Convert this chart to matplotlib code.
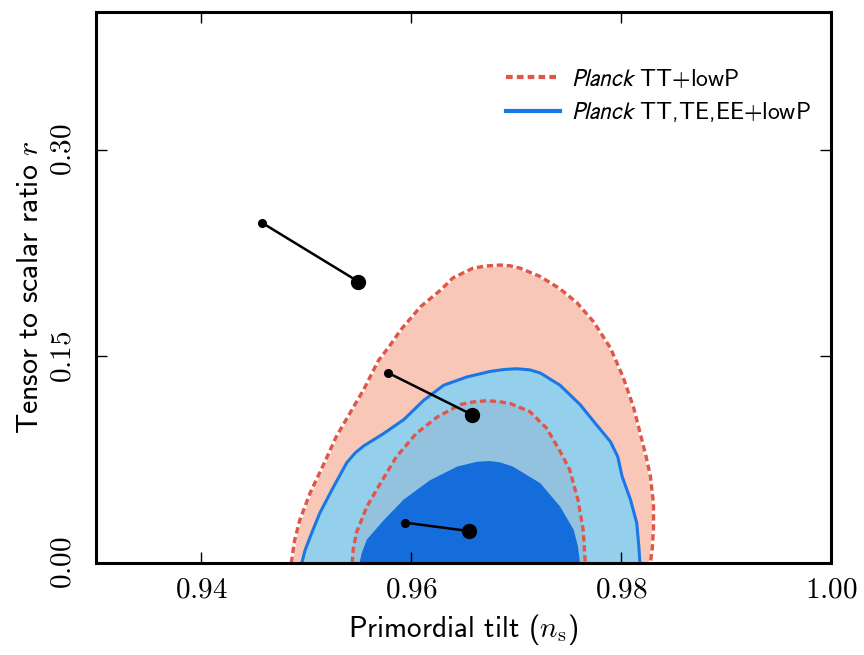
import matplotlib
matplotlib.use('Agg')
import matplotlib.pyplot as plt
from matplotlib.font_manager import FontProperties
from matplotlib.lines import Line2D

plt.rcParams['mathtext.fontset'] = 'cm'

# Planck TT+lowP contours (95% outer, 68% inner)
ns_tt95 = [0.9486, 0.9489, 0.9494, 0.9504, 0.9517, 0.9529, 0.9542, 0.9555, 0.9569,
           0.9580, 0.9590, 0.9609, 0.9628, 0.9640, 0.9659, 0.9671, 0.9685, 0.9694,
           0.9704, 0.9723, 0.9742, 0.9758, 0.9774, 0.9790, 0.9802, 0.9812, 0.9819,
           0.9824, 0.9828, 0.9831, 0.9831, 0.9830, 0.9828]
r_tt95 = [0.000, 0.016, 0.031, 0.051, 0.072, 0.092, 0.109, 0.126, 0.147,
          0.158, 0.169, 0.186, 0.198, 0.207, 0.214, 0.2156, 0.2163, 0.2158,
          0.214, 0.208, 0.199, 0.189, 0.175, 0.156, 0.135, 0.113, 0.092,
          0.077, 0.063, 0.043, 0.026, 0.012, 0.000]
ns_tt68 = [0.9544, 0.9545, 0.9548, 0.9558, 0.9571, 0.9586, 0.9605, 0.9625, 0.9647,
           0.9659, 0.9672, 0.9683, 0.9694, 0.9713, 0.9729, 0.9742, 0.9751, 0.9759,
           0.9764, 0.9766]
r_tt68 = [0.000, 0.010, 0.022, 0.041, 0.058, 0.077, 0.094, 0.106, 0.115,
          0.1169, 0.1178, 0.1172, 0.1159, 0.110, 0.098, 0.081, 0.068, 0.046,
          0.024, 0.000]

# Planck TT,TE,EE+lowP contours
ns_te95 = [0.9496, 0.9499, 0.9504, 0.9513, 0.9526, 0.9539, 0.9547, 0.9555, 0.9574,
           0.9593, 0.9612, 0.9631, 0.9653, 0.9675, 0.9689, 0.9701, 0.9713, 0.9723,
           0.9742, 0.9761, 0.9777, 0.9790, 0.9797, 0.9801, 0.9809, 0.9815, 0.9817,
           0.9818]
r_te95 = [0.000, 0.009, 0.019, 0.036, 0.055, 0.073, 0.080, 0.085, 0.094,
          0.104, 0.118, 0.129, 0.135, 0.139, 0.1405, 0.141, 0.1402, 0.138,
          0.129, 0.115, 0.100, 0.088, 0.077, 0.063, 0.046, 0.029, 0.012,
          0.000]
ns_te68 = [0.9551, 0.9553, 0.9558, 0.9574, 0.9593, 0.9618, 0.9644, 0.9663, 0.9675,
           0.9685, 0.9697, 0.9723, 0.9742, 0.9755, 0.9759, 0.9761]
r_te68 = [0.000, 0.007, 0.017, 0.031, 0.046, 0.060, 0.070, 0.0735, 0.074,
          0.073, 0.070, 0.058, 0.041, 0.024, 0.012, 0.000]

# model predictions: small dot = N=50, big dot = N=60
ns_small = [0.9458, 0.9578, 0.9594]
r_small = [0.2470, 0.1381, 0.0293]
ns_big = [0.9550, 0.9658, 0.9655]
r_big = [0.2042, 0.1077, 0.0232]

xticks = [0.94, 0.96, 0.98, 1.00]
xticklabels = ['$0.94$', '$0.96$', '$0.98$', '$1.00$']
yticks = [0.00, 0.15, 0.30]
yticklabels = ['$0.00$', '$0.15$', '$0.30$']

red = '#e0574a'
blue = '#1a77e6'

fig = plt.figure(figsize=(8.64, 6.55), dpi=100)
ax = fig.add_axes([0.1111, 0.1405, 0.8507, 0.8412])

ax.fill(ns_tt95, r_tt95, color='#f8c7b8', lw=0)
ax.fill(ns_te95, r_te95, color='#94d0ec', lw=0)
ax.fill(ns_tt68, r_tt68, color='#93c2de', lw=0)
ax.fill(ns_te68, r_te68, color='#156cdb', lw=0)

dash = (0, (1.9, 1.1))
ax.plot(ns_tt95, r_tt95, color=red, lw=2.4, ls=dash, gapcolor='white',
        solid_joinstyle='round')
ax.plot(ns_tt68, r_tt68, color=red, lw=2.4, ls=dash)
ax.plot(ns_te95, r_te95, color=blue, lw=2.2, solid_joinstyle='round')

for i in range(len(ns_small)):
    ax.plot([ns_small[i], ns_big[i]], [r_small[i], r_big[i]], color='k', lw=1.8)
ax.plot(ns_small, r_small, 'o', color='k', ms=5.5, ls='none')
ax.plot(ns_big, r_big, 'o', color='k', ms=10, ls='none')

ax.set_xlim(0.93, 1.00)
ax.set_ylim(0, 0.40)
ax.set_xticks(xticks)
ax.set_xticklabels(xticklabels)
ax.set_yticks(yticks)
ax.set_yticklabels(yticklabels, rotation=90, va='center')
ax.tick_params(direction='in', length=8, width=1, top=True, right=True,
               labelsize=21)
ax.tick_params(axis='x', pad=9)
ax.tick_params(axis='y', pad=14)
for s in ax.spines.values():
    s.set_linewidth(2.2)

ax.set_xlabel(r'Primordial tilt ($n_\mathrm{s}$)', family='cmss10', fontsize=21,
              labelpad=6)
ax.set_ylabel(r'Tensor to scalar ratio $r$', family='cmss10', fontsize=21.5,
              labelpad=3)

handles = [Line2D([], [], color=red, lw=3, ls=(0, (1.6, 1.0))),
           Line2D([], [], color=blue, lw=3)]
labels = [r'$\mathit{Planck}$ TT+lowP', r'$\mathit{Planck}$ TT,TE,EE+lowP']
prop = FontProperties(family='cmss10', size=17, math_fontfamily='stixsans')
ax.legend(handles, labels, loc='upper right', bbox_to_anchor=(0.985, 0.918),
          frameon=False, prop=prop, handlelength=2.3, handletextpad=0.45,
          labelspacing=0.35, borderaxespad=0)

fig.savefig('out.png', dpi=100)
